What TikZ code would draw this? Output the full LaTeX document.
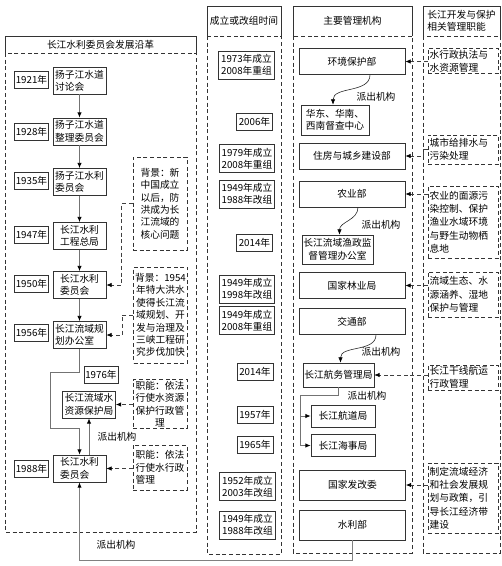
\documentclass[tikz,border=0pt]{standalone}
\usepackage{fontspec}
\newfontfamily\cjk{Noto Sans CJK SC}
\usetikzlibrary{arrows.meta,calc}
\tikzset{
  txt/.style={font=\cjk\fontsize{8.3}{10.6}\selectfont, inner sep=1.2pt},
  box/.style={txt, draw=black!80, line width=.5pt},
  dbox/.style={box, dash pattern=on 1.2mm off .8mm, line width=.6pt},
  conn/.style={-{Latex[length=1.6mm,width=1.3mm,color=black]}, draw=black!55, line width=.7pt},
  dconn/.style={-{Latex[length=1.6mm,width=1.3mm,color=black]}, draw=black!75, line width=.6pt, dash pattern=on 1.2mm off .8mm},
  frame/.style={draw=black!80, line width=.6pt, dash pattern=on 1.2mm off .8mm},
  hframe/.style={draw=black!80, line width=.6pt}
}
\begin{document}
\begin{tikzpicture}[x=0.03cm, y=-0.03cm,
    yr/.style={box, minimum height=.5cm},
    org/.style={box, align=left, minimum width=1.59cm, minimum height=.81cm},
    bg/.style={dbox, align=center, minimum width=1.62cm},
    tm/.style={box, align=center, inner xsep=2pt, minimum height=.5cm},
    tm2/.style={tm, minimum height=.85cm},
    dept/.style={box, minimum width=3.18cm, minimum height=.78cm},
    sub/.style={box, align=left},
    func/.style={dbox, align=left, text width=2cm, inner xsep=1.5pt,
      font=\cjk\fontsize{8.3}{11.4}\selectfont},
    lbl/.style={txt},
    head/.style={txt, align=left},
    carr/.style={conn, draw=black!85, line width=.5pt}
  ]
    \path[use as bounding box] (0,0) rectangle (501,566);

    % column frames: solid heading, dashed body
    \foreach \l/\r/\t/\m/\b in {5/196/36/53/532, 207/281/6/36/554, 293/412/6/36/553, 423/500/6/36/553} {
      \draw[hframe] (\l,\m) |- (\r,\t) -- (\r,\m);
      \draw[frame] (\l,\m) rectangle (\r,\b);
    }
    \node[head] (h1) at (100.5,44.5) {长江水利委员会发展沿革};
    \node[head] (h2) at (244,21) {成立或改组时间};
    \node[head] (h3) at (352.5,21) {主要管理机构};
    \node[head] (h4) at (461.5,21) {长江开发与保护\\相关管理职能};

    % history of the commission
    \node[yr] (y1921) at (31.5,80) {1921年};
    \node[org] (o1921) at (79.5,80.5) {扬子江水道\\讨论会};
    \node[yr] (y1928) at (31.5,132) {1928年};
    \node[org] (o1928) at (79.5,131.5) {扬子江水道\\整理委员会};
    \node[yr] (y1935) at (31.5,181) {1935年};
    \node[org] (o1935) at (79.5,182) {扬子江水利\\委员会};
    \node[yr] (y1947) at (31.5,235) {1947年};
    \node[org, align=center] (o1947) at (79.5,236) {长江水利\\工程总局};
    \node[yr] (y1950) at (31.5,284) {1950年};
    \node[org] (o1950) at (79.5,285) {长江水利\\委员会};
    \node[yr] (y1956) at (31.5,333) {1956年};
    \node[org] (o1956) at (79.5,335) {长江流域规\\划办公室};
    \node[yr] (y1976) at (101,375) {1976年};
    \node[org] (wr) at (89,404.5) {长江流域水\\资源保护局};
    \node[yr] (y1988) at (31.5,469) {1988年};
    \node[org] (o1988) at (79.5,468.5) {长江水利\\委员会};

    \node[bg, minimum height=2.79cm] (bg1) at (160,203.5) {背景：新\\中国成立\\以后，防\\洪成为长\\江流域的\\核心问题};
    \node[bg, minimum height=2.88cm] (bg2) at (160.5,315) {背景：1954\\年特大洪水\\使得长江流\\域规划、开\\发与治理及\\三峡工程研\\究步伐加快};
    \node[bg] (bg3) at (160,404) {职能：依法\\行使水资源\\保护行政管\\理};
    \node[bg, align=left, minimum height=1.35cm] (bg4) at (160,467.5) {职能：依法\\行使水行政\\管理};

    \draw[conn] (o1921) -- (o1928);
    \draw[conn] (o1928) -- (o1935);
    \draw[conn] (o1935) -- (o1947);
    \draw[conn] (o1947) -- (o1950);
    \draw[conn] (o1950) -- (o1956);
    \coordinate (k1) at (50,372);
    \coordinate (k2) at (50,428);
    \draw[conn] (o1956.south) |- (k1) -- (k2) -| (o1988.north);
    \draw[conn] (o1988.north -| wr.south) -- (wr.south);
    \node[lbl] (p5) at (117,437) {派出机构};

    \draw[dconn] (bg1.west) -- ++(-11,0) |- (o1950.east);
    \draw[dconn] (bg2.west) -- ++(-11,0) |- (o1956.east);
    \draw[dconn] (bg3.west |- wr.east) -- (wr.east);
    \draw[dconn] (bg4.west |- o1988.east) -- (o1988.east);

    % founding times
    \node[tm2] (t1) at (246.5,65) {1973年成立\\2008年重组};
    \node[tm] (t2) at (254.5,121.5) {2006年};
    \node[tm2] (t3) at (247,158.5) {1979年成立\\2008年重组};
    \node[tm2] (t4) at (247,194) {1949年成立\\1988年改组};
    \node[tm] (t5) at (254.5,243) {2014年};
    \node[tm2] (t6) at (247,289) {1949年成立\\1998年改组};
    \node[tm2] (t7) at (247,320.5) {1949年成立\\2008年重组};
    \node[tm] (t8) at (255,371.5) {2014年};
    \node[tm] (t9) at (255,415) {1957年};
    \node[tm] (t10) at (255,444.5) {1965年};
    \node[tm2] (t11) at (247.5,486.5) {1952年成立\\2003年改组};
    \node[tm2] (t12) at (247.5,525) {1949年成立\\1988年改组};

    % main agencies
    \node[dept] (env) at (352,61.5) {环境保护部};
    \node[sub, minimum width=2.04cm, minimum height=.9cm] (hd) at (335,120) {华东、华南、\\西南督查中心};
    \node[dept] (zf) at (352,156) {住房与城乡建设部};
    \node[dept] (ny) at (352,194) {农业部};
    \node[sub, align=center, minimum height=.87cm] (yz) at (337.5,249.5) {长江流域渔政监\\督管理办公室};
    \node[dept] (ly) at (352,285.5) {国家林业局};
    \node[dept] (jt) at (352,321.5) {交通部};
    \node[sub, minimum height=.72cm] (hw) at (338.5,375) {长江航务管理局};
    \node[sub, minimum width=1.92cm, minimum height=.66cm] (hdj) at (343,416) {长江航道局};
    \node[sub, minimum width=1.92cm, minimum height=.66cm] (hsj) at (343,445.5) {长江海事局};
    \node[dept, minimum height=.9cm] (fg) at (352.5,485) {国家发改委};
    \node[dept, minimum height=.9cm] (sl) at (352.5,525) {水利部};

    \draw[carr] ($(env.south)+(18,0)$) to[out=-90,in=90] ($(hd.north)+(-2,0)$);
    \node[lbl] (p1) at (376,97) {派出机构};
    \draw[carr] ($(ny.south)+(6,0)$) to[out=-90,in=90] ($(yz.north)+(2,0)$);
    \node[lbl] (p2) at (381,225) {派出机构};
    \draw[carr] ($(jt.south)+(24,0)$) to[out=-90,in=90] ($(hw.north)+(2,0)$);
    \node[lbl] (p3) at (381,352) {派出机构};
    \coordinate (hk) at (300,395);
    \draw[conn] (hw.south) |- (hk) |- (hdj.west);
    \draw[conn] (hk) |- (hsj.west);
    \node[lbl] (p4) at (367,396) {派出机构};

    \draw[conn, line width=1pt, draw=black!50] (sl.south) -- ++(0,20) -| (o1988.south);
    \node[lbl] (p6) at (116,545) {派出机构};

    % functions
    \node[func] (f1) at (463,61) {水行政执法与\\水资源管理};
    \node[func, minimum height=.87cm] (f2) at (463,149.5) {城市给排水与\\污染处理};
    \node[func, minimum height=2.16cm] (f3) at (463,222) {农业的面源污\\染控制、保护\\渔业水域环境\\与野生动物栖\\息地};
    \node[func, minimum height=1.35cm] (f4) at (463,294.5) {流域生态、水\\源涵养、湿地\\保护与管理};
    \node[func] (f5) at (463,377.5) {长江干线航运\\行政管理};
    \node[func, minimum height=2.1cm] (f6) at (463,498) {制定流域经济\\和社会发展规\\划与政策，引\\导长江经济带\\建设};

    \draw[dconn] (f1.west |- env.east) -- (env.east);
    \draw[dconn] (f2.west) -- ++(-4,0) |- (zf.east);
    \draw[dconn] (f3.west |- ny.east) -- (ny.east);
    \draw[dconn] (f4.west |- ly.east) -- (ly.east);
    \draw[dconn] (f5.west |- hw.east) -- (hw.east);
    \draw[dconn] (f6.west |- fg.east) -- (fg.east);
  \end{tikzpicture}
\end{document}
